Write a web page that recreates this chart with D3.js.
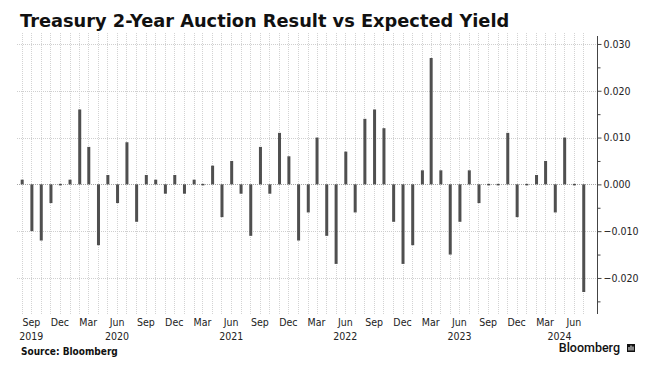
<!DOCTYPE html>
<html>
<head>
<meta charset="utf-8">
<script src="https://cdn.jsdelivr.net/npm/d3@7"></script>
<style>
  html, body { margin: 0; padding: 0; background: #fff; }
  svg { display: block; }
  .cond { font-family: 'DejaVu Sans Condensed', 'DejaVu Sans', sans-serif; font-stretch: condensed; }
</style>
</head>
<body>
<svg id="chart" width="667" height="367"></svg>
<script>
// Auction months (Jul 2019 – Jun 2024), each plotted at the start of the following month
const auctionMonths = [
  "2019-07","2019-08","2019-09","2019-10","2019-11","2019-12",
  "2020-01","2020-02","2020-03","2020-04","2020-05","2020-06",
  "2020-07","2020-08","2020-09","2020-10","2020-11","2020-12",
  "2021-01","2021-02","2021-03","2021-04","2021-05","2021-06",
  "2021-07","2021-08","2021-09","2021-10","2021-11","2021-12",
  "2022-01","2022-02","2022-03","2022-04","2022-05","2022-06",
  "2022-07","2022-08","2022-09","2022-10","2022-11","2022-12",
  "2023-01","2023-02","2023-03","2023-04","2023-05","2023-06",
  "2023-07","2023-08","2023-09","2023-10","2023-11","2023-12",
  "2024-01","2024-02","2024-03","2024-04","2024-05","2024-06"
];
// Auction result minus expected (when-issued) yield, percentage points
const tailValues = [
   0.001,-0.010,-0.012,-0.004, 0.000, 0.001,
   0.016, 0.008,-0.013, 0.002,-0.004, 0.009,
  -0.008, 0.002, 0.001,-0.002, 0.002,-0.002,
   0.001, 0.000, 0.004,-0.007, 0.005,-0.002,
  -0.011, 0.008,-0.002, 0.011, 0.006,-0.012,
  -0.006, 0.010,-0.011,-0.017, 0.007,-0.006,
   0.014, 0.016, 0.012,-0.008,-0.017,-0.013,
   0.003, 0.027, 0.003,-0.015,-0.008, 0.003,
  -0.004, 0.000, 0.000, 0.011,-0.007, 0.000,
   0.002, 0.005,-0.006, 0.010, 0.000,-0.023
];
const yTicks = [-0.020, -0.010, 0.000, 0.010, 0.020, 0.030];
const yMinorTicks = [-0.025, -0.015, -0.005, 0.005, 0.015, 0.025];
const yearLabels = ["2019","2020","2021","2022","2023","2024"];
const yearLabelDates = ["2019-09-01","2020-06-01","2021-06-01","2022-06-01","2023-06-01","2024-04-16"];
const xDomain = ["2019-07-17","2024-08-14"];
const yDomain = [-0.0277, 0.0317];
const titleText = "Treasury 2-Year Auction Result vs Expected Yield";
const sourceText = "Source: Bloomberg";

const parseMonth = d3.timeParse("%Y-%m");
const parseDay = d3.timeParse("%Y-%m-%d");
const data = auctionMonths.map((m, i) => ({
  date: d3.timeMonth.offset(parseMonth(m), 1),
  value: tailValues[i]
}));

const svg = d3.select("#chart");
const plotL = 17, plotR = 597, plotT = 36, plotB = 314;

const x = d3.scaleTime().domain(xDomain.map(parseDay)).range([plotL, plotR]);
const y = d3.scaleLinear().domain(yDomain).range([plotB, plotT]);

// Title
svg.append("text")
  .attr("x", 20).attr("y", 27)
  .attr("font-family", "'DejaVu Sans', sans-serif")
  .attr("font-weight", "bold")
  .attr("font-size", 17.8)
  .attr("fill", "#111")
  .text(titleText);

// vertical month gridlines
const gridMonths = data.map(d => d.date);
svg.append("g").selectAll("line").data(gridMonths).join("line")
  .attr("x1", d => Math.round(x(d)) + 0.5).attr("x2", d => Math.round(x(d)) + 0.5)
  .attr("y1", 33).attr("y2", plotB + 1)
  .attr("stroke", "#d3d3d3").attr("stroke-width", 1)
  .attr("stroke-dasharray", "1,1");

// horizontal gridlines
svg.append("g").selectAll("line").data(yTicks.filter(v => v !== 0)).join("line")
  .attr("x1", plotL).attr("x2", plotR)
  .attr("y1", d => Math.round(y(d)) + 0.5).attr("y2", d => Math.round(y(d)) + 0.5)
  .attr("stroke", "#cfcfcf").attr("stroke-width", 1)
  .attr("stroke-dasharray", "1,1");

// zero line
svg.append("line")
  .attr("x1", plotL).attr("x2", plotR)
  .attr("y1", Math.round(y(0)) + 0.5).attr("y2", Math.round(y(0)) + 0.5)
  .attr("stroke", "#a8a8a8").attr("stroke-width", 1)
  .attr("stroke-dasharray", "1,1");

// bars
const bw = 3;
svg.append("g").selectAll("rect").data(data).join("rect")
  .attr("x", d => x(d.date) - bw / 2 + 0.5)
  .attr("width", bw)
  .attr("y", d => d.value === 0 ? y(0) - 0.5 : Math.min(y(d.value), y(0)))
  .attr("height", d => d.value === 0 ? 1.5 : Math.abs(y(d.value) - y(0)))
  .attr("fill", "#4f4f4f");

// right axis
const axisG = svg.append("g").attr("transform", `translate(${plotR + 0.5},0)`);
axisG.append("line").attr("y1", plotT).attr("y2", plotB)
  .attr("stroke", "#444").attr("stroke-width", 1);
axisG.append("g").call(
  d3.axisRight(y).tickValues(yMinorTicks).tickSize(3).tickFormat("")
).call(g => g.select(".domain").remove())
 .call(g => g.selectAll("line").attr("stroke", "#444"));
axisG.append("g").call(
  d3.axisRight(y).tickValues(yTicks).tickSize(4).tickPadding(2).tickFormat(d3.format(".3f"))
).call(g => g.select(".domain").remove())
 .call(g => g.selectAll("line").attr("stroke", "#444"))
 .call(g => g.attr("font-family", null).attr("font-size", null))
 .call(g => g.selectAll("text")
   .attr("class", "cond").attr("font-size", 10.5).attr("fill", "#222"));

// x month labels
const monthTicks = d3.timeMonth.range(parseDay("2019-09-01"), parseDay("2024-07-01"))
  .filter(d => [8, 11, 2, 5].includes(d.getMonth()));
const fmtMonth = d3.timeFormat("%b");
svg.append("g").selectAll("text").data(monthTicks).join("text")
  .attr("class", "cond")
  .attr("x", d => x(d)).attr("y", 326)
  .attr("text-anchor", "middle")
  .attr("font-size", 10.5).attr("fill", "#222")
  .text(d => fmtMonth(d));

// year labels
svg.append("g").selectAll("text").data(yearLabels).join("text")
  .attr("class", "cond")
  .attr("x", (d, i) => x(parseDay(yearLabelDates[i]))).attr("y", 340)
  .attr("text-anchor", "middle")
  .attr("font-size", 10.5).attr("fill", "#222")
  .text(d => d);

// footer
svg.append("text")
  .attr("class", "cond")
  .attr("x", 21).attr("y", 355)
  .attr("font-weight", "bold").attr("font-size", 10)
  .attr("fill", "#111")
  .text(sourceText);

svg.append("text")
  .attr("x", 620).attr("y", 352)
  .attr("text-anchor", "end")
  .attr("font-family", "Roboto, sans-serif")
  .attr("font-weight", 500).attr("font-size", 12.5)
  .attr("fill", "#111")
  .text("Bloomberg");

// logo icon
const logo = svg.append("g").attr("transform", "translate(627,344)");
logo.append("rect").attr("width", 8).attr("height", 8).attr("fill", "#111");
[1.5, 3.5, 5.5].forEach((bx, i) => {
  const ty = [3, 1.5, 2.5][i];
  logo.append("rect").attr("x", bx).attr("y", ty)
    .attr("width", 1).attr("height", 8 - ty - 1.5).attr("fill", "#fff");
});
</script>
</body>
</html>
